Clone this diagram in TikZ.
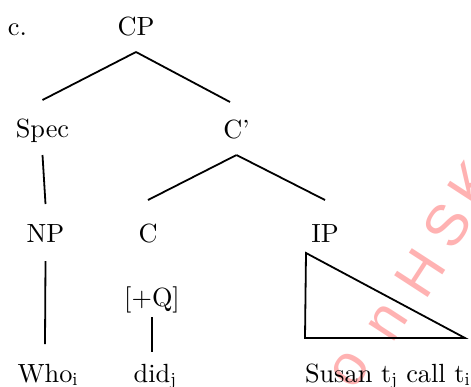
\documentclass[tikz,border=0pt]{standalone}
\usepackage{fontspec}
\setmainfont{lmroman10}[Extension=.otf, UprightFont=*-regular, ItalicFont=*-italic, BoldFont=*-bold]
\newfontfamily\wmfont{Liberation Sans}
\tikzset{
  lbl/.style={inner sep=0pt, outer xsep=0pt, outer ysep=17pt, anchor=base,
    text height=19pt, text depth=0pt, font=\fontsize{26.3}{29}\selectfont},
  branch/.style={line width=1.8pt},
  wm/.style={text=red!30, rotate=57, inner sep=0pt, font=\wmfont\fontsize{58}{60}\selectfont}
}
\begin{document}
\begin{tikzpicture}[x=1pt, y=-1pt]
\useasboundingbox (0,0) rectangle (471,386);
% watermark
\node[wm] (w1) at (350,370) {o};
\node[wm] (w2) at (388,322) {n};
\node[wm] (w3) at (420,273) {H};
\node[wm] (w4) at (447,225) {S};
\node[wm] (w5) at (472,184) {K};
% labels
\node[lbl, anchor=base west] (lab) at (8,35) {c.};
\node[lbl] (CP) at (136,35) {CP};
\node[lbl, outer ysep=18pt] (Spec) at (42.5,137) {Spec};
\node[lbl] (Cbar) at (236.5,138) {C’};
\node[lbl, outer ysep=19pt] (NP) at (45.5,242) {NP};
\node[lbl, outer ysep=23pt] (C) at (148,242) {C};
\node[lbl, outer ysep=23pt] (IP) at (325,242) {IP};
\node[lbl, outer ysep=11pt] (Q) at (152,306) {[+Q]};
\node[lbl, outer ysep=19pt] (Who) at (45,382) {Who\rlap{\textsubscript{i}}};
\node[lbl, outer ysep=11pt] (did) at (152,382) {did\rlap{\textsubscript{j}}};
\node[lbl, anchor=base west] (Susan) at (305,382) {Susan t\textsubscript{j} call t\textsubscript{i}};
% branches
\draw[branch] (CP.south) -- (Spec.north);
\draw[branch] (CP.south) -- (Cbar.north -| 230,0);
\draw[branch] (Spec.south) -- (NP.north);
\draw[branch] (Cbar.south) -- (C.north);
\draw[branch] (Cbar.south) -- (IP.north);
\draw[branch] (NP.south) -- (Who.north);
\draw[branch] (Q.south) -- (did.north);
% triangle
\draw[branch] (306,253) -- (305,338) -- (465,338) -- cycle;
\end{tikzpicture}
\end{document}
